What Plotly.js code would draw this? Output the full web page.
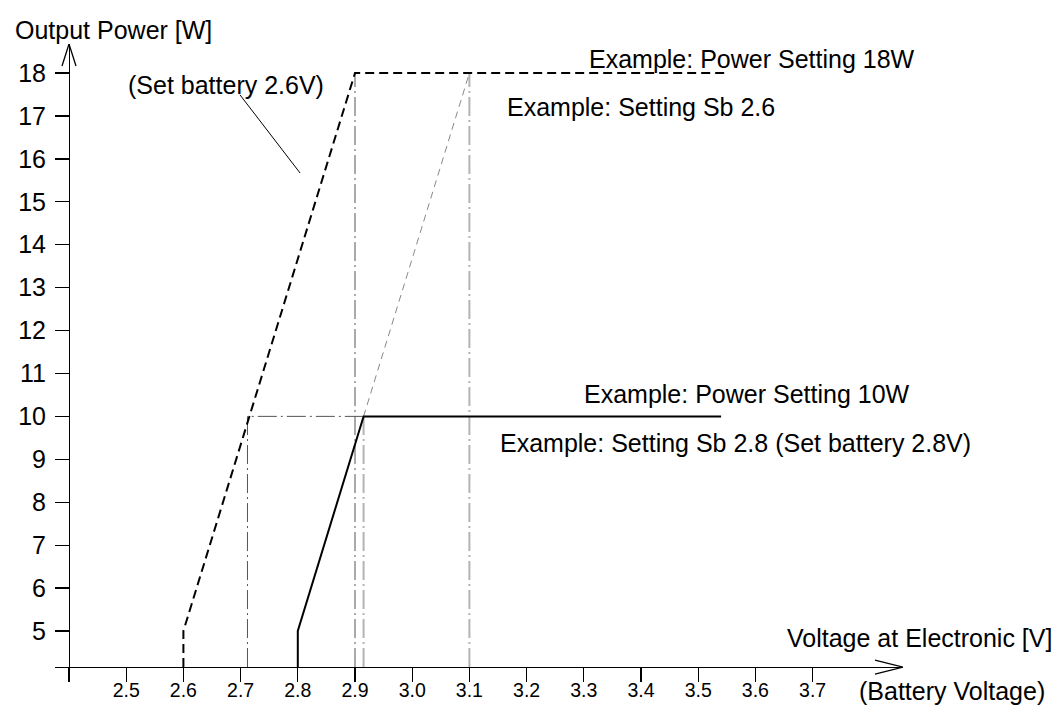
<!DOCTYPE html>
<html>
<head>
<meta charset="utf-8">
<script src="https://cdn.plot.ly/plotly-3.0.1.min.js"></script>
<style>
  html, body { margin: 0; padding: 0; background: #fff; }
  #chart { width: 1056px; height: 709px; }
</style>
</head>
<body>
<div id="chart"></div>
<script>
// ---- data ----
const axisCrossY = 4.16;          // value where the horizontal axis crosses
const axisCrossX = 2.4;           // value where the vertical axis crosses

const sb26X = [2.6, 2.6, 2.9, 3.55];
const sb26Y = [axisCrossY, 5, 18, 18];

const sb28X = [2.8, 2.8, 2.915, 3.54];
const sb28Y = [axisCrossY, 5, 10, 10];

const sb28ExtX = [2.915, 3.1];
const sb28ExtY = [10, 18];

const guideDarkX = [2.712, 2.712, 2.915, null, 2.9, 2.9];
const guideDarkY = [axisCrossY, 10, 10, null, axisCrossY, 18];

const guideLightX = [2.915, 2.915, null, 3.1, 3.1];
const guideLightY = [axisCrossY, 10, null, axisCrossY, 18];

const leaderX = [2.699, 2.804];
const leaderY = [17.49, 15.67];

const xTickVals = [2.4, 2.5, 2.6, 2.7, 2.8, 2.9, 3.0, 3.1, 3.2, 3.3, 3.4, 3.5, 3.6, 3.7];
const xTickText = ['', '2.5', '2.6', '2.7', '2.8', '2.9', '3.0', '3.1', '3.2', '3.3', '3.4', '3.5', '3.6', '3.7'];
const yTickVals = [5, 6, 7, 8, 9, 10, 11, 12, 13, 14, 15, 16, 17, 18];

// ---- layout geometry ----
const W = 1056, H = 709;
const L = 55, R = 903, T = 44, B = 681;
const xRange = [2.37552, 3.85804];
const yRange = [3.835, 18.676];
const pw = R - L, ph = B - T;
const xPosPaper = (axisCrossY - yRange[0]) / (yRange[1] - yRange[0]);
const yPosPaper = (axisCrossX - xRange[0]) / (xRange[1] - xRange[0]);
const pxX = (px) => (px - L) / pw;
const pxY = (py) => (B - py) / ph;
const dxPerPx = (xRange[1] - xRange[0]) / pw;
const dyPerPx = (yRange[1] - yRange[0]) / ph;

const FONT = 'Liberation Sans, Arial, sans-serif';
const dashDot = '19px,4px,2px,4px';

const traces = [
  {x: guideDarkX, y: guideDarkY, mode: 'lines', line: {color: '#555', width: 1, dash: dashDot}},
  {x: guideLightX, y: guideLightY, mode: 'lines', line: {color: '#b4b4b4', width: 2, dash: dashDot}},
  {x: sb28ExtX, y: sb28ExtY, mode: 'lines', line: {color: '#888', width: 1, dash: '7px,5px'}},
  {x: sb26X, y: sb26Y, mode: 'lines', line: {color: '#000', width: 2, dash: '9px,5px'}},
  {x: sb28X, y: sb28Y, mode: 'lines', line: {color: '#000', width: 2}},
  {x: leaderX, y: leaderY, mode: 'lines', line: {color: '#000', width: 1}},
  // invisible trace bound to the label-only x axis
  {x: [xRange[0]], y: [yRange[0]], xaxis: 'x2', mode: 'markers', marker: {opacity: 0}}
];

function txt(text, px, py) {
  return {text: text, xref: 'paper', yref: 'paper', x: pxX(px), y: pxY(py),
          xanchor: 'left', yanchor: 'middle', showarrow: false,
          font: {family: FONT, size: 25, color: '#000'}};
}

const annotations = [
  txt('Output Power [W]', 13, 30),
  txt('(Set battery 2.6V)', 126, 85),
  txt('Example: Power Setting 18W', 587, 59),
  txt('Example: Setting Sb 2.6', 505, 107),
  txt('Example: Power Setting 10W', 582, 394),
  txt('Example: Setting Sb 2.8 (Set battery 2.8V)', 498, 443),
  txt('Voltage at Electronic [V]', 785, 638),
  txt('(Battery Voltage)', 857, 691)
];

// open arrowheads on the axes
const yTip = [axisCrossX, yRange[1]];
const xTip = [xRange[1], axisCrossY];
const shapes = [
  {type: 'path', xref: 'x', yref: 'y',
   path: 'M' + (yTip[0] - 7 * dxPerPx) + ',' + (yTip[1] - 22 * dyPerPx) +
         ' L' + yTip[0] + ',' + yTip[1] +
         ' L' + (yTip[0] + 7 * dxPerPx) + ',' + (yTip[1] - 22 * dyPerPx),
   line: {color: '#000', width: 1.3}},
  {type: 'path', xref: 'x', yref: 'y',
   path: 'M' + (xTip[0] - 28 * dxPerPx) + ',' + (xTip[1] + 7 * dyPerPx) +
         ' L' + xTip[0] + ',' + xTip[1] +
         ' L' + (xTip[0] - 28 * dxPerPx) + ',' + (xTip[1] - 7 * dyPerPx),
   line: {color: '#000', width: 1.3}}
];

const layout = {
  width: W, height: H,
  margin: {l: L, r: W - R, t: T, b: H - B, pad: 0},
  paper_bgcolor: '#fff', plot_bgcolor: '#fff',
  showlegend: false,
  hovermode: false,
  font: {family: FONT, color: '#000'},
  xaxis: {
    range: xRange, anchor: 'free', position: xPosPaper,
    showline: true, linecolor: '#000', linewidth: 1.3,
    ticks: 'outside', ticklen: 14, tickwidth: 1.3, tickcolor: '#000',
    tickvals: xTickVals, showticklabels: false,
    showgrid: false, zeroline: false, fixedrange: true
  },
  xaxis2: {
    range: xRange, overlaying: 'x', anchor: 'free', position: xPosPaper,
    showline: false,
    ticks: 'outside', ticklen: 6, tickwidth: 1, tickcolor: 'rgba(0,0,0,0)',
    tickvals: xTickVals, ticktext: xTickText,
    tickfont: {family: FONT, size: 19.5, color: '#000'},
    showgrid: false, zeroline: false, fixedrange: true
  },
  yaxis: {
    range: yRange, anchor: 'free', position: yPosPaper,
    showline: true, linecolor: '#000', linewidth: 1.3,
    ticks: 'outside', ticklen: 14, tickwidth: 1.3, tickcolor: '#000',
    tickvals: yTickVals, ticklabelstandoff: 4,
    tickfont: {family: FONT, size: 25, color: '#000'},
    showgrid: false, zeroline: false, fixedrange: true
  },
  annotations: annotations,
  shapes: shapes
};

Plotly.newPlot('chart', traces, layout, {displayModeBar: false, staticPlot: true});
</script>
</body>
</html>
